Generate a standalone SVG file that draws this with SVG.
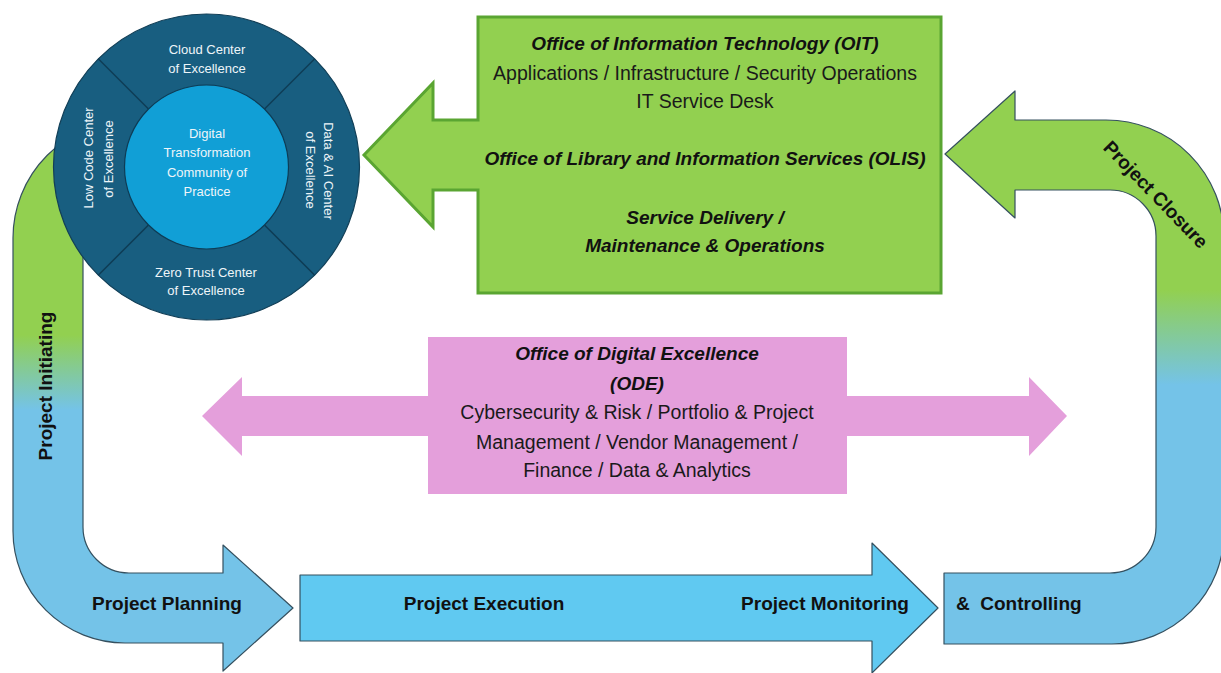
<svg xmlns="http://www.w3.org/2000/svg" width="1221" height="673" viewBox="0 0 1221 673">
  <defs>
    <linearGradient id="gradLeft" gradientUnits="userSpaceOnUse" x1="0" y1="335" x2="0" y2="410">
      <stop offset="0" stop-color="#92d050"/>
      <stop offset="1" stop-color="#74c3e8"/>
    </linearGradient>
    <linearGradient id="gradRight" gradientUnits="userSpaceOnUse" x1="0" y1="290" x2="0" y2="385">
      <stop offset="0" stop-color="#92d050"/>
      <stop offset="1" stop-color="#74c3e8"/>
    </linearGradient>
    <style>
      .band { stroke: #35505f; stroke-width: 1.2; stroke-linejoin: round; }
      .phase { font-family: "Liberation Sans", Arial, sans-serif; font-weight: bold; font-size: 19px; fill: #111; }
      .head { font-family: "Liberation Sans", Arial, sans-serif; font-weight: bold; font-style: italic; font-size: 19px; fill: #111; text-anchor: middle; }
      .body { font-family: "Liberation Sans", Arial, sans-serif; font-size: 19.5px; fill: #1a1a1a; text-anchor: middle; }
      .coe { font-family: "Liberation Sans", Arial, sans-serif; font-size: 13px; fill: #eef5f9; text-anchor: middle; }
      .divider { stroke: #0e3c55; stroke-width: 1.5; }
    </style>
  </defs>

  <rect width="1221" height="673" fill="#ffffff"/>

  <!-- Lifecycle arrows -->
  <g id="connectors">
    <!-- Initiating / Planning U-band -->
    <g id="phase-initiating-planning">
      <path class="band" fill="url(#gradLeft)"
        d="M13,238 A117,117 0 0 1 130,121 L170,121 L170,191 L130,191 A47,47 0 0 0 83,238 L83,527 A46,46 0 0 0 129,573 L223,573 L223,545 L293,608 L223,671 L223,643 L125,643 A112,112 0 0 1 13,531 Z"/>
      <text class="phase" text-anchor="middle" transform="translate(52,386) rotate(-90)">Project Initiating</text>
      <text class="phase" text-anchor="middle" x="167" y="610">Project Planning</text>
    </g>

    <!-- Execution / Monitoring arrow -->
    <g id="phase-execution-monitoring">
      <path class="band" fill="#60c9f1"
        d="M300,575 L872,575 L872,543 L938,608 L872,673 L872,641 L300,641 Z"/>
      <text class="phase" text-anchor="middle" x="484" y="610">Project Execution</text>
      <text class="phase" text-anchor="middle" x="825" y="610">Project Monitoring</text>
    </g>

    <!-- Controlling / Closure U-band -->
    <g id="phase-controlling-closure">
      <path class="band" fill="url(#gradRight)"
        d="M945,154 L1015,91 L1015,120 L1106,120 A118,118 0 0 1 1224,238 L1224,532 A112,112 0 0 1 1112,644 L944,644 L944,573 L1110,573 A46,46 0 0 0 1156,527 L1156,236 A46,46 0 0 0 1110,190 L1015,190 L1015,218 Z"/>
      <text class="phase" x="956" y="610" style="white-space:pre">&amp;  Controlling</text>
      <text class="phase" text-anchor="middle" transform="translate(1151,199) rotate(46)">Project Closure</text>
    </g>
  </g>

  <!-- Centers of Excellence wheel -->
  <g id="coe-wheel">
    <circle cx="206.5" cy="167" r="153" fill="#185e80" stroke="#123f57" stroke-width="1.2"/>
    <line class="divider" x1="148.5" y1="109" x2="98.5" y2="59"/>
    <line class="divider" x1="264.5" y1="109" x2="314.5" y2="59"/>
    <line class="divider" x1="148.5" y1="225" x2="98.5" y2="275"/>
    <line class="divider" x1="264.5" y1="225" x2="314.5" y2="275"/>
    <circle cx="206.5" cy="167" r="82" fill="#119fd6" stroke="#0e3c55" stroke-width="1.2"/>

    <g id="coe-cloud">
      <text class="coe" x="207" y="54">Cloud Center</text>
      <text class="coe" x="207" y="73">of Excellence</text>
    </g>
    <g id="coe-zero-trust">
      <text class="coe" x="206" y="277">Zero Trust Center</text>
      <text class="coe" x="206" y="295">of Excellence</text>
    </g>
    <g id="coe-low-code">
      <text class="coe" transform="translate(92.5,158) rotate(-90)">Low Code Center</text>
      <text class="coe" transform="translate(112.5,159) rotate(-90)">of Excellence</text>
    </g>
    <g id="coe-data-ai">
      <text class="coe" transform="translate(323.5,171) rotate(90)">Data &amp; AI Center</text>
      <text class="coe" transform="translate(305.5,170) rotate(90)">of Excellence</text>
    </g>
    <g id="community-of-practice">
      <text class="coe" x="207" y="138">Digital</text>
      <text class="coe" x="207" y="157">Transformation</text>
      <text class="coe" x="207" y="177">Community of</text>
      <text class="coe" x="207" y="196">Practice</text>
    </g>
  </g>

  <!-- OIT / OLIS operations block with arrow toward the wheel -->
  <g id="oit-olis">
    <path fill="#92d050" stroke="#5aa532" stroke-width="3" stroke-linejoin="miter"
      d="M478,17 L941,17 L941,293 L478,293 L478,190 L433,190 L433,227 L364,155 L433,83 L433,120 L478,120 Z"/>
    <text class="head" x="705" y="50">Office of Information Technology (OIT)</text>
    <text class="body" x="705" y="80">Applications / Infrastructure / Security Operations</text>
    <text class="body" x="705" y="108">IT Service Desk</text>
    <text class="head" x="705" y="165">Office of Library and Information Services (OLIS)</text>
    <text class="head" x="705" y="224">Service Delivery /</text>
    <text class="head" x="705" y="252">Maintenance &amp; Operations</text>
  </g>

  <!-- Office of Digital Excellence double arrow -->
  <g id="ode">
    <path fill="#e49fdb"
      d="M202,416 L242,377 L242,396 L428,396 L428,337 L847,337 L847,396 L1029,396 L1029,377 L1067,416 L1029,456 L1029,436 L847,436 L847,494 L428,494 L428,436 L242,436 L242,456 Z"/>
    <text class="head" x="637" y="360">Office of Digital Excellence</text>
    <text class="head" x="637" y="390">(ODE)</text>
    <text class="body" x="637" y="419">Cybersecurity &amp; Risk / Portfolio &amp; Project</text>
    <text class="body" x="637" y="449">Management / Vendor Management /</text>
    <text class="body" x="637" y="477">Finance / Data &amp; Analytics</text>
  </g>
</svg>
